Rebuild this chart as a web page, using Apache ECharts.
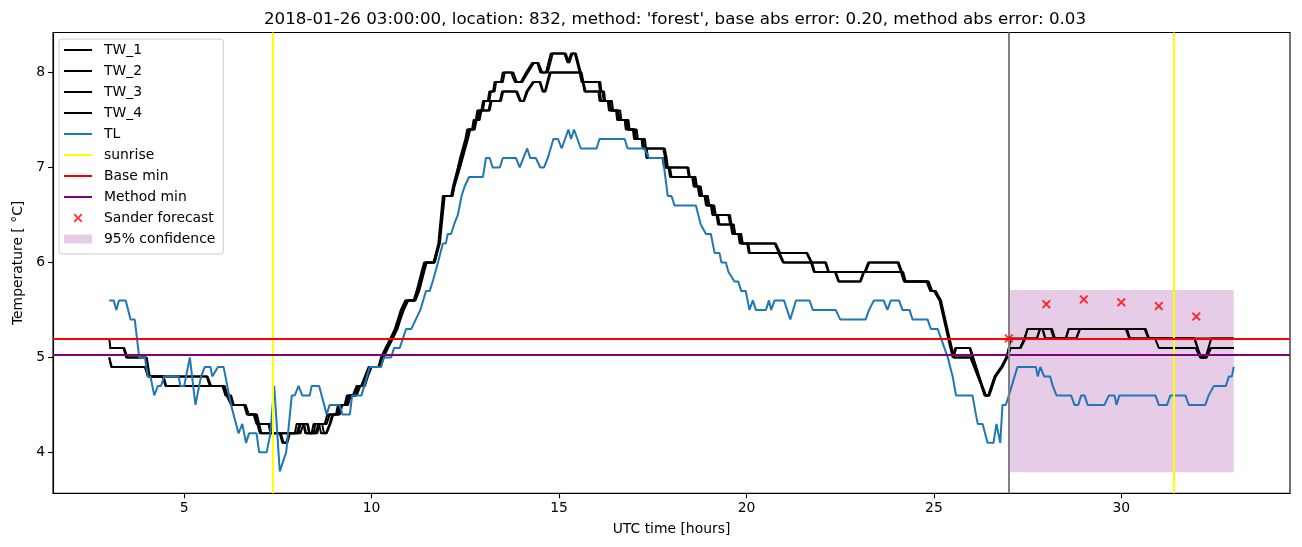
<!DOCTYPE html>
<html>
<head>
<meta charset="utf-8">
<script src="https://cdn.jsdelivr.net/npm/echarts@6/dist/echarts.min.js"></script>
<style>html,body{margin:0;padding:0;background:#fff}#c{width:1302px;height:547px}</style>
</head>
<body>
<div id="c"></div>
<script>
// ---- data (time in UTC hours, temperature in deg C) ----
const tl = [[3.0,5.6],[3.12,5.6],[3.19,5.5],[3.26,5.6],[3.44,5.6],[3.57,5.4],[3.68,5.4],[3.8,5.0],[3.95,5.0],[4.03,4.8],[4.1,4.8],[4.2,4.6],[4.3,4.7],[4.38,4.7],[4.47,4.8],[4.85,4.8],[4.9,4.7],[5.0,4.7],[5.15,5.0],[5.3,4.5],[5.45,4.8],[5.55,4.9],[5.7,4.9],[5.75,4.8],[5.9,4.9],[6.05,4.9],[6.25,4.5],[6.45,4.2],[6.55,4.3],[6.65,4.1],[6.73,4.2],[6.93,4.2],[7.0,4.0],[7.2,4.0],[7.3,4.2],[7.4,4.7],[7.55,3.8],[7.72,4.0],[7.87,4.6],[7.95,4.6],[8.05,4.7],[8.15,4.6],[8.35,4.6],[8.4,4.7],[8.6,4.7],[8.8,4.4],[8.88,4.5],[9.15,4.5],[9.22,4.4],[9.42,4.4],[9.48,4.6],[9.73,4.6],[9.95,4.9],[10.25,4.9],[10.33,5.0],[10.52,5.0],[10.6,5.1],[10.75,5.1],[10.92,5.3],[11.06,5.3],[11.18,5.4],[11.3,5.5],[11.45,5.7],[11.55,5.7],[11.63,5.8],[11.77,6.0],[11.9,6.2],[11.98,6.2],[12.03,6.3],[12.12,6.3],[12.2,6.4],[12.3,6.5],[12.4,6.7],[12.48,6.8],[12.6,6.9],[12.97,6.9],[13.05,7.1],[13.15,7.1],[13.23,7.0],[13.42,7.0],[13.5,7.1],[13.85,7.1],[13.95,7.0],[14.05,7.1],[14.15,7.2],[14.23,7.1],[14.38,7.1],[14.5,7.0],[14.6,7.0],[14.7,7.1],[14.85,7.3],[14.97,7.3],[15.07,7.2],[15.25,7.4],[15.32,7.3],[15.4,7.4],[15.58,7.2],[16.0,7.2],[16.08,7.3],[16.75,7.3],[16.83,7.2],[17.28,7.2],[17.4,7.1],[17.77,7.1],[17.9,6.7],[18.0,6.7],[18.08,6.6],[18.65,6.6],[18.78,6.4],[18.92,6.3],[19.05,6.3],[19.15,6.1],[19.28,6.1],[19.33,6.0],[19.45,6.0],[19.52,5.9],[19.68,5.8],[19.78,5.8],[19.86,5.7],[19.98,5.7],[20.08,5.5],[20.17,5.6],[20.25,5.5],[20.52,5.5],[20.6,5.6],[20.66,5.5],[20.75,5.6],[21.0,5.6],[21.17,5.4],[21.32,5.6],[21.68,5.6],[21.77,5.5],[22.38,5.5],[22.5,5.4],[23.18,5.4],[23.27,5.5],[23.4,5.6],[23.66,5.6],[23.76,5.5],[23.85,5.6],[24.07,5.6],[24.16,5.5],[24.35,5.5],[24.43,5.4],[24.83,5.4],[24.92,5.3],[25.1,5.3],[25.19,5.2],[25.37,5.0],[25.5,4.8],[25.59,4.6],[26.03,4.6],[26.12,4.4],[26.17,4.3],[26.3,4.3],[26.43,4.1],[26.59,4.1],[26.67,4.3],[26.77,4.1],[26.83,4.5],[26.92,4.5],[27.0,4.6],[27.23,4.9],[27.72,4.9],[27.77,4.8],[27.84,4.9],[27.94,4.8],[28.1,4.8],[28.17,4.7],[28.27,4.6],[28.66,4.6],[28.75,4.5],[28.85,4.5],[28.93,4.6],[29.02,4.6],[29.1,4.5],[29.55,4.5],[29.67,4.6],[29.82,4.6],[29.87,4.5],[29.95,4.6],[30.91,4.6],[31.0,4.5],[31.22,4.5],[31.31,4.6],[31.71,4.6],[31.8,4.5],[32.24,4.5],[32.33,4.6],[32.47,4.7],[32.79,4.7],[32.87,4.8],[32.95,4.8],[33.0,4.9]];

const tw1 = [[3.0,5.2],[3.03,5.1],[3.38,5.1],[3.45,5.0],[3.97,5.0],[4.05,4.8],[5.6,4.8],[5.68,4.7],[6.02,4.7],[6.1,4.6],[6.2,4.6],[6.27,4.5],[6.6,4.5],[6.67,4.4],[6.9,4.4],[6.96,4.3],[7.25,4.3],[7.3,4.2],[7.95,4.2],[8.0,4.3],[8.2,4.3],[8.25,4.2],[8.45,4.2],[8.5,4.3],[8.75,4.3],[8.82,4.4],[9.05,4.4],[9.1,4.5],[9.28,4.5],[9.34,4.6],[9.5,4.6],[9.6,4.7],[9.72,4.7],[9.82,4.8],[9.92,4.9],[10.18,4.9],[10.25,5.0],[10.37,5.1],[10.5,5.2],[10.62,5.3],[10.7,5.4],[10.78,5.5],[10.9,5.6],[11.12,5.6],[11.2,5.7],[11.33,5.9],[11.4,6.0],[11.65,6.0],[11.78,6.2],[11.9,6.7],[12.12,6.7],[12.17,6.8],[12.22,6.8],[12.3,7.0],[12.36,7.1],[12.43,7.2],[12.5,7.3],[12.55,7.4],[12.68,7.4],[12.72,7.5],[12.78,7.5],[12.82,7.6],[12.93,7.6],[12.97,7.7],[13.1,7.7],[13.14,7.8],[13.24,7.8],[13.28,7.9],[13.45,7.9],[13.5,8.0],[13.72,8.0],[13.82,7.9],[13.98,7.9],[14.12,8.0],[14.28,8.1],[14.42,8.1],[14.5,8.0],[14.65,8.0],[14.78,8.2],[15.14,8.2],[15.23,8.1],[15.32,8.2],[15.42,8.2],[15.55,8.0],[15.6,7.9],[16.06,7.9],[16.09,7.8],[16.16,7.8],[16.19,7.7],[16.36,7.7],[16.39,7.6],[16.58,7.6],[16.61,7.5],[16.8,7.5],[16.83,7.4],[17.02,7.4],[17.05,7.3],[17.24,7.3],[17.27,7.2],[17.78,7.2],[17.83,7.1],[17.86,7.0],[18.42,7.0],[18.46,6.9],[18.6,6.9],[18.64,6.8],[18.74,6.8],[18.78,6.7],[18.92,6.7],[18.96,6.6],[19.1,6.6],[19.14,6.5],[19.52,6.5],[19.56,6.4],[19.62,6.4],[19.66,6.3],[19.78,6.3],[19.82,6.2],[20.75,6.2],[20.86,6.1],[21.6,6.1],[21.72,6.0],[22.1,6.0],[22.18,5.9],[23.15,5.9],[23.25,6.0],[24.03,6.0],[24.12,5.9],[24.2,5.8],[24.8,5.8],[24.9,5.7],[25.0,5.7],[25.15,5.6],[25.38,5.2],[25.5,5.0],[25.57,5.1],[25.95,5.1],[26.35,4.6],[26.45,4.6],[26.62,4.8],[26.8,4.9],[26.93,5.0],[27.0,5.1],[27.3,5.1],[27.42,5.2],[27.5,5.3],[28.15,5.3],[28.23,5.2],[28.52,5.2],[28.59,5.3],[30.12,5.3],[30.21,5.2],[33.0,5.2]];

const tw2 = [[3.0,5.1],[3.4,5.1],[3.48,5.0],[4.0,5.0],[4.08,4.8],[5.62,4.8],[5.72,4.7],[6.05,4.7],[6.13,4.6],[6.25,4.5],[6.62,4.5],[6.7,4.4],[6.85,4.4],[6.93,4.3],[7.3,4.3],[7.36,4.2],[8.05,4.2],[8.1,4.3],[8.3,4.3],[8.35,4.2],[8.55,4.2],[8.6,4.3],[8.8,4.3],[8.88,4.4],[9.08,4.4],[9.15,4.5],[9.3,4.5],[9.38,4.6],[9.52,4.6],[9.63,4.7],[9.75,4.7],[9.85,4.8],[9.96,4.9],[10.2,4.9],[10.28,5.0],[10.4,5.1],[10.52,5.2],[10.64,5.3],[10.73,5.4],[10.8,5.5],[10.93,5.6],[11.15,5.6],[11.22,5.7],[11.36,5.9],[11.43,6.0],[11.68,6.0],[11.8,6.2],[11.93,6.7],[12.15,6.7],[12.2,6.8],[12.25,6.8],[12.33,7.0],[12.39,7.1],[12.46,7.2],[12.53,7.3],[12.58,7.4],[12.72,7.4],[12.76,7.5],[12.82,7.5],[12.86,7.6],[12.97,7.6],[13.01,7.7],[13.14,7.7],[13.18,7.8],[13.28,7.8],[13.32,7.9],[13.5,7.9],[13.55,8.0],[13.78,8.0],[13.87,7.9],[14.02,7.9],[14.17,8.0],[14.33,8.1],[14.45,8.1],[14.55,8.0],[14.7,8.0],[14.83,8.2],[15.18,8.2],[15.27,8.1],[15.36,8.2],[15.45,8.2],[15.58,8.0],[15.63,7.9],[16.1,7.9],[16.13,7.8],[16.2,7.8],[16.23,7.7],[16.41,7.7],[16.44,7.6],[16.63,7.6],[16.66,7.5],[16.85,7.5],[16.88,7.4],[17.07,7.4],[17.1,7.3],[17.29,7.3],[17.32,7.2],[17.82,7.2],[17.87,7.1],[17.9,7.0],[18.45,7.0],[18.49,6.9],[18.64,6.9],[18.68,6.8],[18.78,6.8],[18.82,6.7],[18.97,6.7],[19.01,6.6],[19.14,6.6],[19.18,6.5],[19.56,6.5],[19.6,6.4],[19.66,6.4],[19.7,6.3],[19.82,6.3],[19.86,6.2],[20.78,6.2],[20.9,6.1],[21.62,6.1],[21.75,6.0],[22.12,6.0],[22.2,5.9],[23.18,5.9],[23.28,6.0],[24.06,6.0],[24.15,5.9],[24.23,5.8],[24.84,5.8],[24.95,5.7],[25.03,5.7],[25.17,5.6],[25.4,5.2],[25.52,5.0],[25.6,5.1],[25.97,5.1],[26.37,4.6],[26.47,4.6],[26.64,4.8],[26.82,4.9],[26.95,5.0],[27.05,5.2],[27.75,5.2],[27.83,5.3],[27.9,5.3],[27.97,5.2],[28.8,5.2],[28.89,5.3],[30.65,5.3],[30.74,5.2],[31.95,5.2],[32.12,5.0],[32.25,5.0],[32.4,5.2],[33.0,5.2]];

const tw3 = [[3.0,5.0],[3.05,4.9],[3.95,4.9],[4.03,4.8],[4.42,4.8],[4.5,4.7],[6.05,4.7],[6.12,4.6],[6.22,4.6],[6.3,4.5],[6.62,4.5],[6.7,4.4],[6.92,4.4],[6.95,4.3],[7.02,4.2],[7.55,4.2],[7.62,4.1],[7.72,4.1],[7.8,4.2],[8.0,4.2],[8.08,4.3],[8.18,4.3],[8.23,4.2],[8.4,4.2],[8.45,4.3],[8.6,4.3],[8.65,4.2],[8.78,4.2],[8.88,4.3],[8.95,4.4],[9.12,4.4],[9.2,4.5],[9.35,4.5],[9.42,4.6],[9.58,4.6],[9.67,4.7],[9.8,4.7],[9.88,4.8],[9.98,4.9],[10.22,4.9],[10.3,5.0],[10.42,5.1],[10.55,5.2],[10.67,5.3],[10.75,5.4],[10.84,5.5],[10.97,5.6],[11.15,5.6],[11.25,5.7],[11.38,5.9],[11.45,6.0],[11.66,6.0],[11.8,6.2],[11.92,6.7],[12.14,6.7],[12.19,6.8],[12.24,6.8],[12.33,7.0],[12.4,7.1],[12.47,7.2],[12.54,7.3],[12.6,7.4],[12.72,7.4],[12.77,7.5],[12.85,7.5],[12.9,7.6],[13.12,7.6],[13.17,7.7],[13.42,7.7],[13.48,7.8],[13.85,7.8],[13.95,7.7],[14.05,7.7],[14.13,7.8],[14.3,7.9],[14.48,7.9],[14.56,7.8],[14.62,7.8],[14.75,8.0],[15.58,8.0],[15.63,7.9],[15.68,7.8],[16.05,7.8],[16.08,7.7],[16.3,7.7],[16.33,7.6],[16.52,7.6],[16.55,7.5],[16.75,7.5],[16.78,7.4],[16.97,7.4],[17.0,7.3],[17.2,7.3],[17.23,7.2],[17.3,7.2],[17.33,7.1],[17.76,7.1],[17.8,7.0],[17.92,7.0],[17.96,6.9],[18.55,6.9],[18.59,6.8],[18.7,6.8],[18.74,6.7],[18.88,6.7],[18.92,6.6],[19.05,6.6],[19.09,6.5],[19.2,6.5],[19.24,6.4],[19.58,6.4],[19.62,6.3],[19.84,6.3],[19.88,6.2],[20.02,6.2],[20.06,6.1],[20.85,6.1],[20.97,6.0],[21.72,6.0],[21.8,5.9],[22.36,5.9],[22.45,5.8],[23.03,5.8],[23.12,5.9],[24.15,5.9],[24.22,5.8],[24.84,5.8],[24.93,5.7],[25.03,5.7],[25.17,5.6],[25.4,5.2],[25.52,5.0],[25.97,5.0],[26.37,4.6],[26.46,4.6],[26.63,4.8],[26.8,4.9],[26.93,5.0],[27.03,5.1],[27.3,5.1],[27.42,5.2],[27.5,5.3],[28.12,5.3],[28.2,5.2],[28.8,5.2],[28.9,5.3],[30.62,5.3],[30.72,5.2],[30.9,5.2],[31.0,5.1],[31.98,5.1],[32.1,5.0],[32.28,5.0],[32.38,5.1],[33.0,5.1]];

const tw4 = [[3.0,5.0],[3.07,4.9],[3.98,4.9],[4.06,4.8],[4.45,4.8],[4.52,4.7],[6.08,4.7],[6.15,4.6],[6.25,4.6],[6.32,4.5],[6.64,4.5],[6.72,4.4],[6.94,4.4],[7.0,4.3],[7.06,4.2],[7.58,4.2],[7.65,4.1],[7.75,4.1],[7.82,4.2],[8.1,4.2],[8.18,4.3],[8.28,4.3],[8.33,4.2],[8.5,4.2],[8.58,4.3],[8.68,4.3],[8.73,4.2],[8.8,4.2],[8.9,4.3],[8.98,4.4],[9.15,4.4],[9.22,4.5],[9.37,4.5],[9.45,4.6],[9.6,4.6],[9.7,4.7],[9.82,4.7],[9.9,4.8],[10.0,4.9],[10.24,4.9],[10.32,5.0],[10.44,5.1],[10.57,5.2],[10.69,5.3],[10.77,5.4],[10.86,5.5],[10.98,5.6],[11.17,5.6],[11.27,5.7],[11.4,5.9],[11.47,6.0],[11.68,6.0],[11.82,6.2],[11.95,6.7],[12.16,6.7],[12.21,6.8],[12.26,6.8],[12.36,7.0],[12.43,7.1],[12.5,7.2],[12.57,7.3],[12.63,7.4],[12.75,7.4],[12.8,7.5],[12.88,7.5],[12.93,7.6],[13.15,7.6],[13.2,7.7],[13.45,7.7],[13.51,7.8],[13.88,7.8],[13.98,7.7],[14.07,7.7],[14.16,7.8],[14.33,7.9],[14.5,7.9],[14.58,7.8],[14.64,7.8],[14.78,8.0],[15.6,8.0],[15.65,7.9],[15.71,7.8],[16.09,7.8],[16.12,7.7],[16.34,7.7],[16.37,7.6],[16.56,7.6],[16.59,7.5],[16.8,7.5],[16.83,7.4],[17.01,7.4],[17.04,7.3],[17.24,7.3],[17.27,7.2],[17.34,7.2],[17.37,7.1],[17.8,7.1],[17.84,7.0],[17.96,7.0],[18.0,6.9],[18.58,6.9],[18.62,6.8],[18.73,6.8],[18.77,6.7],[18.92,6.7],[18.96,6.6],[19.08,6.6],[19.12,6.5],[19.24,6.5],[19.28,6.4],[19.6,6.4],[19.64,6.3],[19.86,6.3],[19.9,6.2],[20.05,6.2],[20.09,6.1],[20.88,6.1],[21.0,6.0],[21.75,6.0],[21.82,5.9],[22.38,5.9],[22.47,5.8],[23.05,5.8],[23.14,5.9],[24.18,5.9],[24.25,5.8],[24.86,5.8],[24.95,5.7],[25.05,5.7],[25.19,5.6],[25.42,5.2],[25.54,5.0],[25.99,5.0],[26.39,4.6],[26.48,4.6],[26.65,4.8],[26.83,4.9],[26.96,5.0],[27.05,5.1],[27.32,5.1],[27.44,5.2],[27.75,5.2],[27.83,5.3],[27.9,5.3],[27.97,5.2],[28.52,5.2],[28.6,5.3],[30.15,5.3],[30.23,5.2],[31.95,5.2],[32.12,5.0],[32.27,5.0],[32.4,5.1],[33.0,5.1]];

const sunriseTimes = [7.37, 31.41];
const baseMin = 5.2;
const methodMin = 5.03;
const forecastTime = 27;
const sanderTimes = [27, 28, 29, 30, 31, 32];
const sanderTemps = [5.2, 5.56, 5.61, 5.58, 5.54, 5.43];
const confTime = [27, 33];
const confLow = [3.79, 3.79];
const confHigh = [5.71, 5.71];
const xTicks = [5, 10, 15, 20, 25, 30];
const yTicks = [4, 5, 6, 7, 8];
const titleText = "2018-01-26 03:00:00, location: 832, method: 'forest', base abs error: 0.20, method abs error: 0.03";

// ---- chart ----
const FONT = 'DejaVu Sans';
const LINE_ICON = 'path://M0,0H28V2H0Z';
const X_ICON = 'path://M0,1.2L1.2,0L4,2.8L6.8,0L8,1.2L5.2,4L8,6.8L6.8,8L4,5.2L1.2,8L0,6.8L2.8,4Z';
const chart = echarts.init(document.getElementById('c'), null, {renderer: 'canvas'});

function lineSeries(name, data, color, z) {
  return {name, type: 'line', data, symbol: 'none', showSymbol: false, z: z || 2,
    lineStyle: {color, width: 2}, itemStyle: {color}, animation: false, silent: true};
}
function markSeries(name, color, lines, z) {
  return {name, type: 'line', data: [], symbol: 'none', z: z || 3,
    lineStyle: {color, width: 2}, itemStyle: {color}, animation: false, silent: true,
    markLine: {symbol: ['none', 'none'], silent: true, animation: false, label: {show: false},
      lineStyle: {color, width: 2, type: 'solid'}, data: lines}};
}

const option = {
  backgroundColor: '#fff',
  animation: false,
  textStyle: {fontFamily: FONT},
  title: {text: titleText, left: 670, top: 6, textAlign: 'center',
    textStyle: {fontFamily: FONT, fontSize: 16.7, fontWeight: 'normal', color: '#000'}},
  grid: {left: 53, right: 12, top: 32.5, bottom: 53.7, show: true, borderColor: '#000', borderWidth: 1.1,
    backgroundColor: 'transparent', containLabel: false, outerBoundsMode: 'none'},
  xAxis: {type: 'value', min: 1.5, max: 34.5,
    name: 'UTC time [hours]', nameLocation: 'middle', nameGap: 29,
    nameTextStyle: {fontFamily: FONT, fontSize: 13.9, color: '#000'},
    axisLine: {show: true, lineStyle: {color: '#000', width: 1.1}},
    axisTick: {show: true, length: 5, lineStyle: {color: '#000', width: 1.1}, customValues: xTicks},
    axisLabel: {fontFamily: FONT, fontSize: 13.9, color: '#000', margin: 8, customValues: xTicks},
    splitLine: {show: false}},
  yAxis: {type: 'value', min: 3.569, max: 8.421,
    name: 'Temperature [ °C]', nameLocation: 'middle', nameGap: 27,
    nameTextStyle: {fontFamily: FONT, fontSize: 13.9, color: '#000'},
    axisLine: {show: true, lineStyle: {color: '#000', width: 1.1}},
    axisTick: {show: true, length: 5, lineStyle: {color: '#000', width: 1.1}, customValues: yTicks},
    axisLabel: {fontFamily: FONT, fontSize: 13.9, color: '#000', margin: 8, customValues: yTicks},
    splitLine: {show: false}},
  legend: {
    orient: 'vertical', left: 59, top: 39, itemWidth: 28, itemHeight: 9, itemGap: 7,
    padding: [4, 8, 8, 5], backgroundColor: 'rgba(255,255,255,0.8)', borderColor: '#cccccc',
    borderWidth: 1, borderRadius: 3, selectedMode: false, z: 20,
    textStyle: {fontFamily: FONT, fontSize: 13.9, color: '#000', lineHeight: 14, padding: [0, 0, 0, 7]},
    data: [
      {name: 'TW_1', icon: LINE_ICON}, {name: 'TW_2', icon: LINE_ICON},
      {name: 'TW_3', icon: LINE_ICON}, {name: 'TW_4', icon: LINE_ICON},
      {name: 'TL', icon: LINE_ICON}, {name: 'sunrise', icon: LINE_ICON},
      {name: 'Base min', icon: LINE_ICON}, {name: 'Method min', icon: LINE_ICON},
      {name: 'Sander forecast', icon: X_ICON}, {name: '95% confidence', icon: 'rect'}
    ]
  },
  series: [
    {name: '95% confidence', type: 'custom', z: 1, silent: true, animation: false,
      itemStyle: {color: 'rgba(128,0,128,0.2)'},
      data: [[confTime[0], confLow[0]]],
      renderItem: function (params, api) {
        const pts = [];
        for (let i = 0; i < confTime.length; i++) pts.push(api.coord([confTime[i], confHigh[i]]));
        for (let i = confTime.length - 1; i >= 0; i--) pts.push(api.coord([confTime[i], confLow[i]]));
        return {type: 'polygon', shape: {points: pts}, style: {fill: 'rgba(128,0,128,0.2)'}};
      }},
    lineSeries('TW_1', tw1, '#000000'),
    lineSeries('TW_2', tw2, '#000000'),
    lineSeries('TW_3', tw3, '#000000'),
    lineSeries('TW_4', tw4, '#000000'),
    lineSeries('TL', tl, '#1f77b4'),
    markSeries('sunrise', '#ffff00', sunriseTimes.map(t => ({xAxis: t}))),
    markSeries('Base min', '#ff0000', [{yAxis: baseMin}]),
    markSeries('Method min', '#800080', [{yAxis: methodMin}]),
    markSeries('forecast time', '#808080', [{xAxis: forecastTime}]),
    {name: 'Sander forecast', type: 'scatter', symbol: X_ICON, symbolSize: 9, z: 5,
      itemStyle: {color: '#ff0000'}, animation: false, silent: true,
      data: sanderTimes.map((t, i) => [t, sanderTemps[i]])}
  ]
};
chart.setOption(option);
</script>
</body>
</html>
